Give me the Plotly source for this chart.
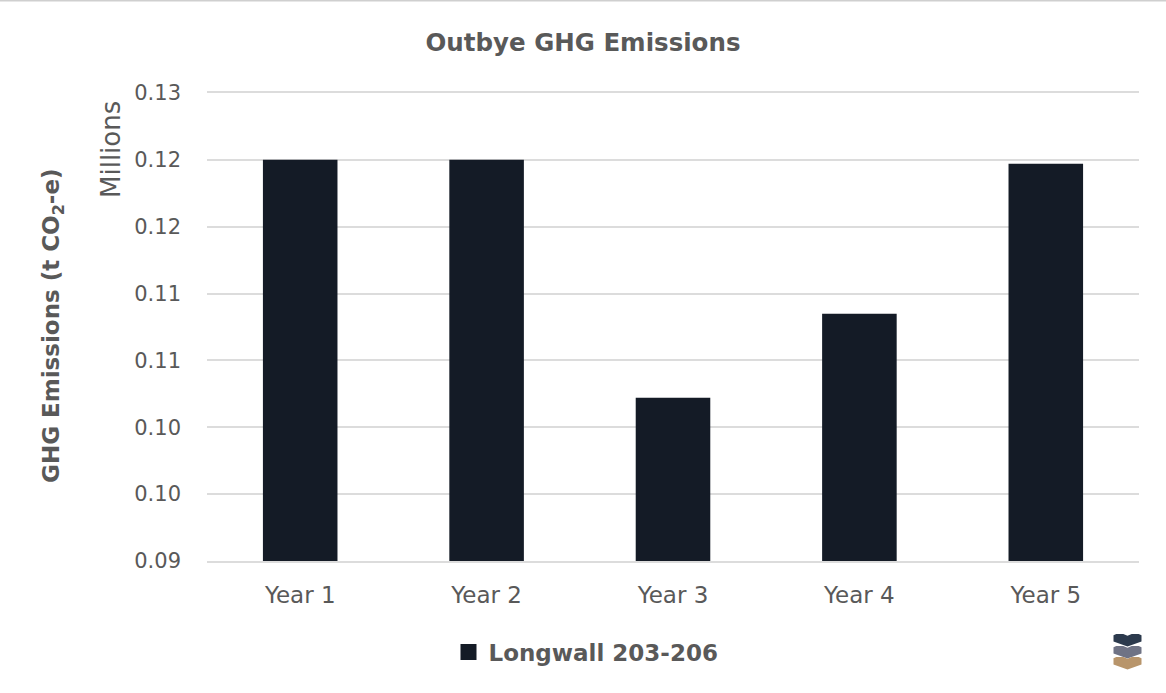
import plotly.graph_objects as go

# Outbye emissions per mining year, in millions of tonnes CO2-e
categories = ["Year 1", "Year 2", "Year 3", "Year 4", "Year 5"]
longwall_values = [0.12, 0.12, 0.1022, 0.1085, 0.1197]
series_name = "Longwall 203-206"

y_ticks = [0.09, 0.095, 0.10, 0.105, 0.11, 0.115, 0.12, 0.125]
y_tick_labels = ["0.09", "0.10", "0.10", "0.11", "0.11", "0.12", "0.12", "0.13"]

TEXT = "#595959"
BAR = "#141b26"
GRID = "#dcdcdc"
FONT = "'DejaVu Sans', sans-serif"

# Plot area in pixels; paper coordinates are relative to it
LEFT, RIGHT, TOP, BOTTOM = 207, 1139, 93, 561


def px(v):
    return (v - LEFT) / (RIGHT - LEFT)


def py(v):
    return (BOTTOM - v) / (BOTTOM - TOP)


fig = go.Figure()
fig.add_trace(go.Bar(
    x=categories, y=longwall_values, name=series_name, width=0.4,
    marker=dict(color=BAR, line=dict(width=0)), showlegend=False,
))
# Legend-only trace gives a larger square swatch than the bar default
fig.add_trace(go.Scatter(
    x=[categories[0]], y=[None], mode="markers", name=series_name,
    marker=dict(symbol="square", size=16, color=BAR),
))


def chevron(x0, y0, w, h, color):
    """One layer of the corner logo: a notched top tapering to a point."""
    pts = [(0, 0.1), (0.1, 0), (0.35, 0), (0.5, 0.14), (0.65, 0), (0.9, 0),
           (1, 0.1), (1, 0.6), (0.5, 1), (0, 0.6)]
    path = "M" + " L".join(f"{px(x0 + a * w):.5f},{py(y0 + b * h):.5f}" for a, b in pts) + " Z"
    return dict(type="path", xref="paper", yref="paper", path=path,
                fillcolor=color, line=dict(width=0), layer="above")


fig.update_layout(
    width=1166, height=693, autosize=False,
    margin=dict(l=LEFT, r=1166 - RIGHT, t=TOP, b=693 - BOTTOM),
    paper_bgcolor="white", plot_bgcolor="white",
    font=dict(family=FONT, color=TEXT, size=20),
    title=dict(text="<b>Outbye GHG Emissions</b>", x=583 / 1166, xanchor="center",
               y=1 - 42 / 693, yanchor="middle", font=dict(size=24.5, color=TEXT)),
    bargap=0.6,
    xaxis=dict(
        type="category", categoryorder="array", categoryarray=categories,
        showgrid=False, ticks="", ticklabelstandoff=12,
        showline=True, linecolor=GRID, linewidth=2, mirror=True,
        tickfont=dict(size=23, color=TEXT),
    ),
    yaxis=dict(
        range=[0.09, 0.125], tickmode="array", tickvals=y_ticks, ticktext=y_tick_labels,
        showgrid=True, gridcolor=GRID, gridwidth=2, zeroline=False, showline=False,
        ticks="", ticklabelstandoff=25,
        tickfont=dict(size=21, color=TEXT),
    ),
    legend=dict(orientation="h", x=px(586), xanchor="center", y=py(652),
                yanchor="middle", font=dict(size=23, color=TEXT, weight="bold"),
                itemsizing="trace", bgcolor="rgba(0,0,0,0)"),
    annotations=[
        dict(text="<b>GHG Emissions (t CO<sub>2</sub>-e)</b>", textangle=-90, showarrow=False,
             xref="paper", yref="paper", x=px(53), y=py(326), xanchor="center",
             yanchor="middle", font=dict(size=23, color=TEXT)),
        dict(text="Millions", textangle=-90, showarrow=False,
             xref="paper", yref="paper", x=px(111), y=py(150), xanchor="center",
             yanchor="middle", font=dict(size=26, color=TEXT)),
    ],
    shapes=[
        dict(type="rect", xref="paper", yref="paper", x0=px(0), x1=px(1166), y0=py(1.5), y1=py(0),
             fillcolor="#cfcfcf", line=dict(width=0)),
        chevron(1113.5, 634, 28, 12.5, "#2c3a4d"),
        chevron(1113.5, 646, 28, 12.5, "#6f7385"),
        chevron(1113.5, 657, 28, 12.5, "#b8956b"),
    ],
)

fig.write_html("out.html")
